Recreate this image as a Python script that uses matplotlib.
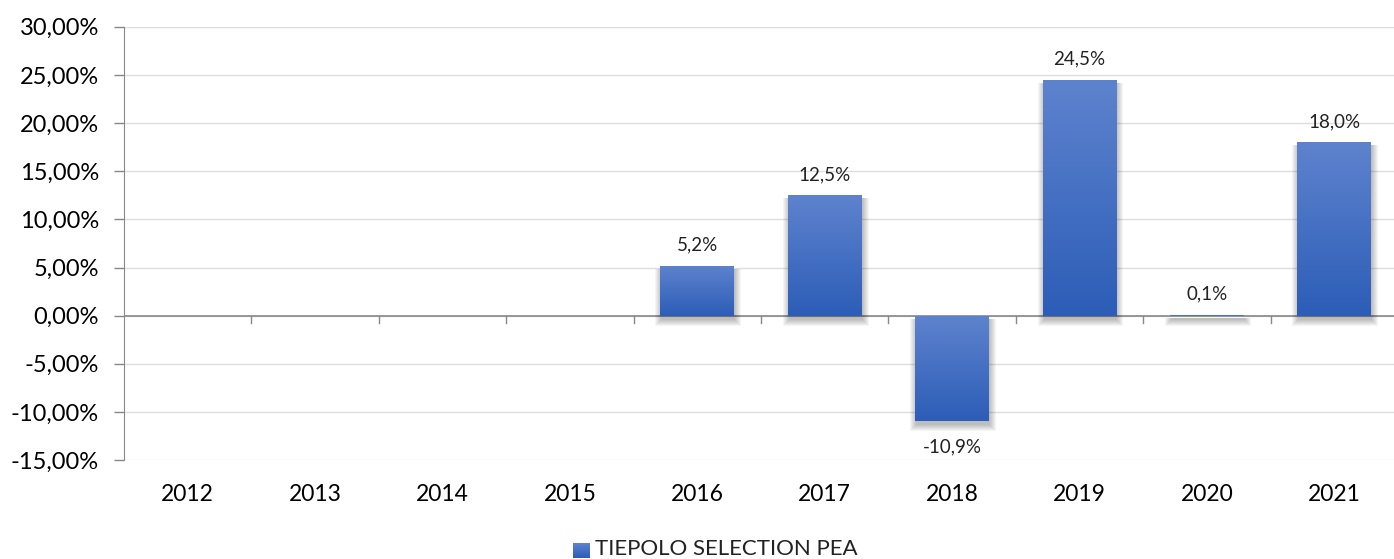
import numpy as np
import matplotlib.pyplot as plt
from matplotlib.colors import LinearSegmentedColormap
from matplotlib.patches import Rectangle

years = ["2012", "2013", "2014", "2015", "2016", "2017", "2018", "2019", "2020", "2021"]
returns = [np.nan, np.nan, np.nan, np.nan, 5.2, 12.5, -10.9, 24.5, 0.1, 18.0]
value_labels = ["", "", "", "", "5,2%", "12,5%", "-10,9%", "24,5%", "0,1%", "18,0%"]
y_ticks = [-15, -10, -5, 0, 5, 10, 15, 20, 25, 30]
series_name = "TIEPOLO SELECTION PEA"

plt.rcParams["font.family"] = ["Lato", "DejaVu Sans"]

grad = LinearSegmentedColormap.from_list("bar", ["#2C5DB7", "#5E83CE"])
gradient = np.linspace(0, 1, 256).reshape(-1, 1)

ax_w = 1274 / 1394
ax_h = 0.775
fig = plt.figure(figsize=(13.94, 5.59), dpi=100)
ax = fig.add_axes([124 / 1394, 0.177, ax_w, ax_h])
ax.set_xlim(-0.5, len(years) - 0.5)
ax.set_ylim(-15, 30)

x = np.arange(len(years))
bars = ax.bar(x, np.nan_to_num(returns), width=0.58, color="#4472C4", zorder=3)

# pixel size in data units, for the soft shadow
px_x = (ax.get_xlim()[1] - ax.get_xlim()[0]) / (fig.get_figwidth() * 100 * ax_w)
px_y = (ax.get_ylim()[1] - ax.get_ylim()[0]) / (fig.get_figheight() * 100 * ax_h)

for b, v in zip(bars, returns):
    if np.isnan(v):
        continue
    x0, w = b.get_x(), b.get_width()
    lo, hi = min(0, v), max(0, v)
    # soft drop shadow: stacked translucent rectangles, shifted down
    for k in range(1, 8):
        bot = lo - 3 * px_y - k * px_y
        top = hi - 3 * px_y
        ax.add_patch(Rectangle((x0 + 2 * px_x - k * px_x, bot),
                               w + 2 * k * px_x - 2 * px_x, top - bot,
                               facecolor="black", edgecolor="none", alpha=0.04, zorder=2.5))
    # vertical gradient fill on each bar (lighter at top)
    im = ax.imshow(gradient, cmap=grad, aspect="auto", origin="lower",
                   extent=[x0, x0 + w, lo, hi], zorder=4)
    im.set_clip_path(b)

for xi, v, lab in zip(x, returns, value_labels):
    if np.isnan(v):
        continue
    off = 15 if v >= 0 else -19
    ax.annotate(lab, (xi, v), xytext=(0, off), textcoords="offset points",
                ha="center", va="center", fontsize=13.5, color="#222222")

ax.set_xlim(-0.5, len(years) - 0.5)
ax.set_ylim(-15, 30)
ax.set_yticks(y_ticks)
ax.set_yticklabels([f"{t:.2f}".replace(".", ",") + "%" for t in y_ticks], fontsize=17)
ax.yaxis.grid(True, color="#DDDDDD", linewidth=1)
ax.set_axisbelow(True)

for s in ["top", "right", "bottom"]:
    ax.spines[s].set_visible(False)
ax.spines["left"].set_color("#888888")
ax.axhline(0, color="#888888", linewidth=1.2, zorder=2)
ax.tick_params(axis="y", length=7, color="#888888", width=1, pad=11)

ax.set_xticks(x)
ax.set_xticklabels(years, fontsize=16.5)
ax.tick_params(axis="x", length=0, pad=17)
# category boundary tick marks under the zero line
for bnd in np.arange(0.5, len(years) - 0.5):
    ax.plot([bnd, bnd], [0, -0.8], color="#888888", linewidth=1, zorder=2, clip_on=False)

# legend
sq = fig.add_axes([573 / 1394, 1 - 558 / 559, 17 / 1394, 15 / 559])
sq.imshow(gradient, cmap=grad, aspect="auto", origin="lower")
sq.axis("off")
fig.text(595 / 1394, 1 - 549 / 559, series_name, fontsize=16, va="center", ha="left", color="#222222")

fig.savefig("out.png", dpi=100)
